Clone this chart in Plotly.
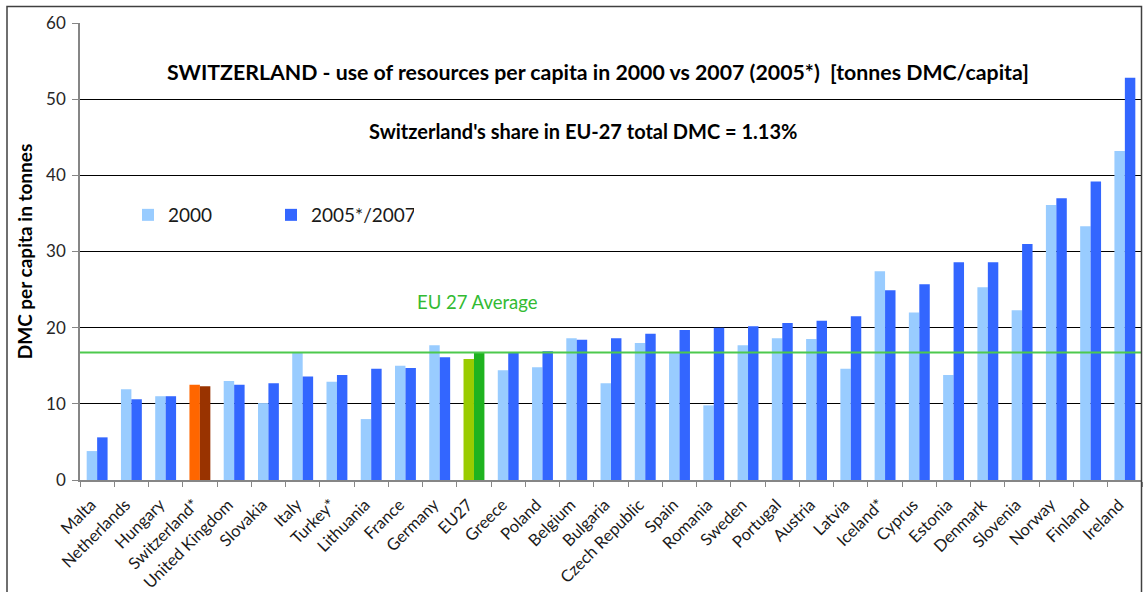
import plotly.graph_objects as go

categories = ["Malta", "Netherlands", "Hungary", "Switzerland*", "United Kingdom", "Slovakia",
              "Italy", "Turkey*", "Lithuania", "France", "Germany", "EU27", "Greece", "Poland",
              "Belgium", "Bulgaria", "Czech Republic", "Spain", "Romania", "Sweden", "Portugal",
              "Austria", "Latvia", "Iceland*", "Cyprus", "Estonia", "Denmark", "Slovenia",
              "Norway", "Finland", "Ireland"]
values_2000 = [3.8, 11.9, 11.0, 12.5, 13.0, 10.1, 16.8, 12.9, 8.0, 15.0, 17.7, 15.9, 14.4, 14.8,
               18.6, 12.7, 18.0, 16.8, 9.8, 17.7, 18.6, 18.5, 14.6, 27.4, 22.0, 13.8, 25.3, 22.3,
               36.1, 33.3, 43.2]
values_2007 = [5.6, 10.6, 11.0, 12.3, 12.5, 12.7, 13.6, 13.8, 14.6, 14.7, 16.1, 16.75, 16.8, 16.9,
               18.4, 18.6, 19.2, 19.7, 20.0, 20.2, 20.6, 20.9, 21.5, 24.9, 25.7, 28.6, 28.6, 31.0,
               37.0, 39.2, 52.8]
eu_average = 16.75
y_ticks = [0, 10, 20, 30, 40, 50, 60]

W, H = 1143, 592
ML, MR, MT, MB = 80, 1, 23, 112
PW, PH = W - ML - MR, H - MT - MB


def px_x(x):
    return (x - ML) / PW


def px_y(y):
    return (H - MB - y) / PH


FONT = "Lato, 'Open Sans', sans-serif"

c2000 = ["#FF6600" if c == "Switzerland*" else "#99CC00" if c == "EU27" else "#99CCFF" for c in categories]
c2007 = ["#993300" if c == "Switzerland*" else "#1FB31F" if c == "EU27" else "#3366FF" for c in categories]

fig = go.Figure()
fig.add_trace(go.Bar(x=categories, y=values_2000, name="2000", marker=dict(color=c2000, line_width=0)))
fig.add_trace(go.Bar(x=categories, y=values_2007, name="2005*/2007", marker=dict(color=c2007, line_width=0)))

fig.add_hline(y=eu_average, line=dict(color="#4DC94D", width=2), layer="above")


def note(text, x, y, size, color="#000000"):
    return dict(text=text, xref="paper", yref="paper", x=px_x(x), y=px_y(y), showarrow=False,
                xanchor="center", yanchor="middle", font=dict(size=size, family=FONT, color=color))


fig.update_layout(
    width=W, height=H,
    margin=dict(l=ML, r=MR, t=MT, b=MB, autoexpand=False),
    paper_bgcolor="white", plot_bgcolor="white",
    barmode="group", bargap=0.39, bargroupgap=0,
    font=dict(family=FONT, color="#262626"),
    showlegend=True,
    legend=dict(orientation="h", x=px_x(128), y=px_y(215), xanchor="left", yanchor="middle",
                font=dict(size=19, family=FONT, color="#1a1a1a"),
                entrywidth=98, entrywidthmode="pixels", bgcolor="rgba(0,0,0,0)"),
    xaxis=dict(showline=True, linecolor="#868686", linewidth=1.5, ticks="outside", automargin=False,
               tickson="boundaries", ticklen=5, tickcolor="#868686", tickangle=-45,
               tickmode="array", tickvals=categories,
               ticktext=[c + "\u00a0\u00a0" for c in categories],
               ticklabelstandoff=1,
               tickfont=dict(size=16.5, family=FONT, color="#1a1a1a"), showgrid=False),
    yaxis=dict(range=[0, 60], tickvals=y_ticks, showline=True, linecolor="#868686", linewidth=1.5,
               ticks="outside", ticklen=6, tickcolor="#868686", showgrid=True, gridcolor="#000000",
               gridwidth=1, zeroline=False, ticklabelstandoff=3, automargin=False,
               tickfont=dict(size=17, family=FONT, color="#262626"),
               title=dict(text="<b>DMC per capita in tonnes</b>", standoff=8,
                          font=dict(size=19, family=FONT, color="#000000"))),
    annotations=[
        note("<b>SWITZERLAND - use of resources per capita in 2000 vs 2007 (2005*)&nbsp; [tonnes DMC/capita]</b>",
             598, 72, 21.3),
        note("<b>Switzerland's share in EU-27 total DMC = 1.13%</b>", 583, 131, 20),
        note("EU 27 Average", 477, 302, 18.5, "#33BB33"),
    ],
    shapes=[
        dict(type="line", xref="paper", yref="paper", x0=px_x(0), x1=px_x(W), y0=px_y(2), y1=px_y(2),
             line=dict(color="black", width=4)),
        dict(type="rect", xref="paper", yref="paper", x0=px_x(7), x1=px_x(1141.5), y0=px_y(6.5), y1=px_y(H + 5),
             line=dict(color="#404040", width=1.5)),
    ],
)

fig.write_html("out.html", config={"displayModeBar": False},
               post_script="document.body.style.margin='0';document.body.style.overflow='hidden';")
